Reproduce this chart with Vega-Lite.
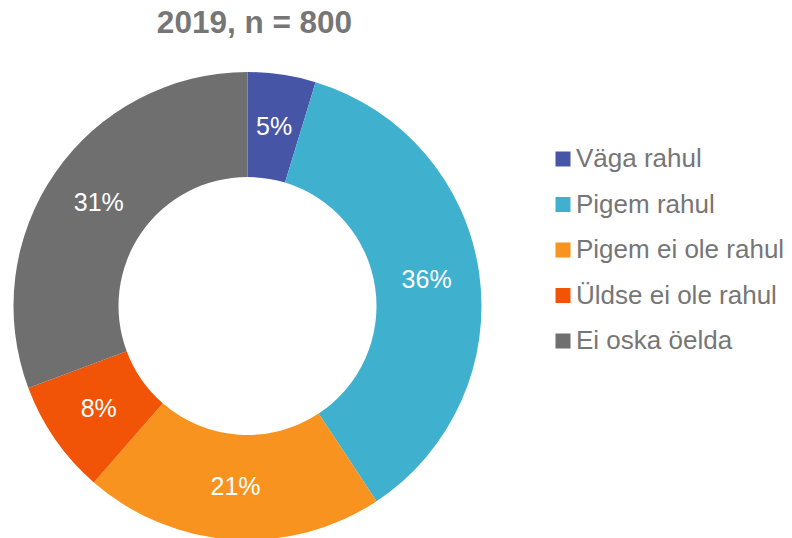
{
  "$schema": "https://vega.github.io/schema/vega-lite/v6.json",
  "width": 495,
  "height": 468,
  "autosize": {"type": "none"},
  "padding": {"left": 0, "top": 72, "right": 297, "bottom": 0},
  "background": "white",
  "title": {
    "text": "2019, n = 800",
    "fontSize": 31.5,
    "font": "Liberation Sans",
    "fontWeight": "bold",
    "color": "#767676",
    "anchor": "middle",
    "dx": 7,
    "offset": 33
  },
  "data": {
    "values": [
      {"kategooria": "Väga rahul", "osakaal": 4.7, "silt": "5%", "jrk": 1},
      {"kategooria": "Pigem rahul", "osakaal": 36.0, "silt": "36%", "jrk": 2},
      {"kategooria": "Pigem ei ole rahul", "osakaal": 20.7, "silt": "21%", "jrk": 3},
      {"kategooria": "Üldse ei ole rahul", "osakaal": 7.9, "silt": "8%", "jrk": 4},
      {"kategooria": "Ei oska öelda", "osakaal": 30.7, "silt": "31%", "jrk": 5}
    ]
  },
  "encoding": {
    "theta": {"field": "osakaal", "type": "quantitative", "stack": true},
    "order": {"field": "jrk", "type": "quantitative"}
  },
  "layer": [
    {
      "mark": {"type": "arc", "outerRadius": 234, "innerRadius": 129},
      "encoding": {
        "color": {
          "field": "kategooria",
          "type": "nominal",
          "sort": ["Väga rahul", "Pigem rahul", "Pigem ei ole rahul", "Üldse ei ole rahul", "Ei oska öelda"],
          "scale": {
            "domain": ["Väga rahul", "Pigem rahul", "Pigem ei ole rahul", "Üldse ei ole rahul", "Ei oska öelda"],
            "range": ["#4755A6", "#3FB1CE", "#F7931E", "#F15406", "#6F6F6F"]
          },
          "legend": {
            "title": null,
            "orient": "none",
            "legendX": 550,
            "legendY": 74,
            "padding": 0,
            "symbolType": "square",
            "symbolSize": 225,
            "symbolStrokeWidth": 0,
            "labelFont": "Liberation Sans",
            "labelFontSize": 26,
            "labelColor": "#767676",
            "labelOffset": 0,
            "rowPadding": 19.5,
            "labelLimit": 400
          }
        }
      }
    },
    {
      "mark": {"type": "text", "radius": 181, "fontSize": 25, "font": "Liberation Sans", "color": "white"},
      "encoding": {
        "text": {"field": "silt", "type": "nominal"}
      }
    }
  ]
}
